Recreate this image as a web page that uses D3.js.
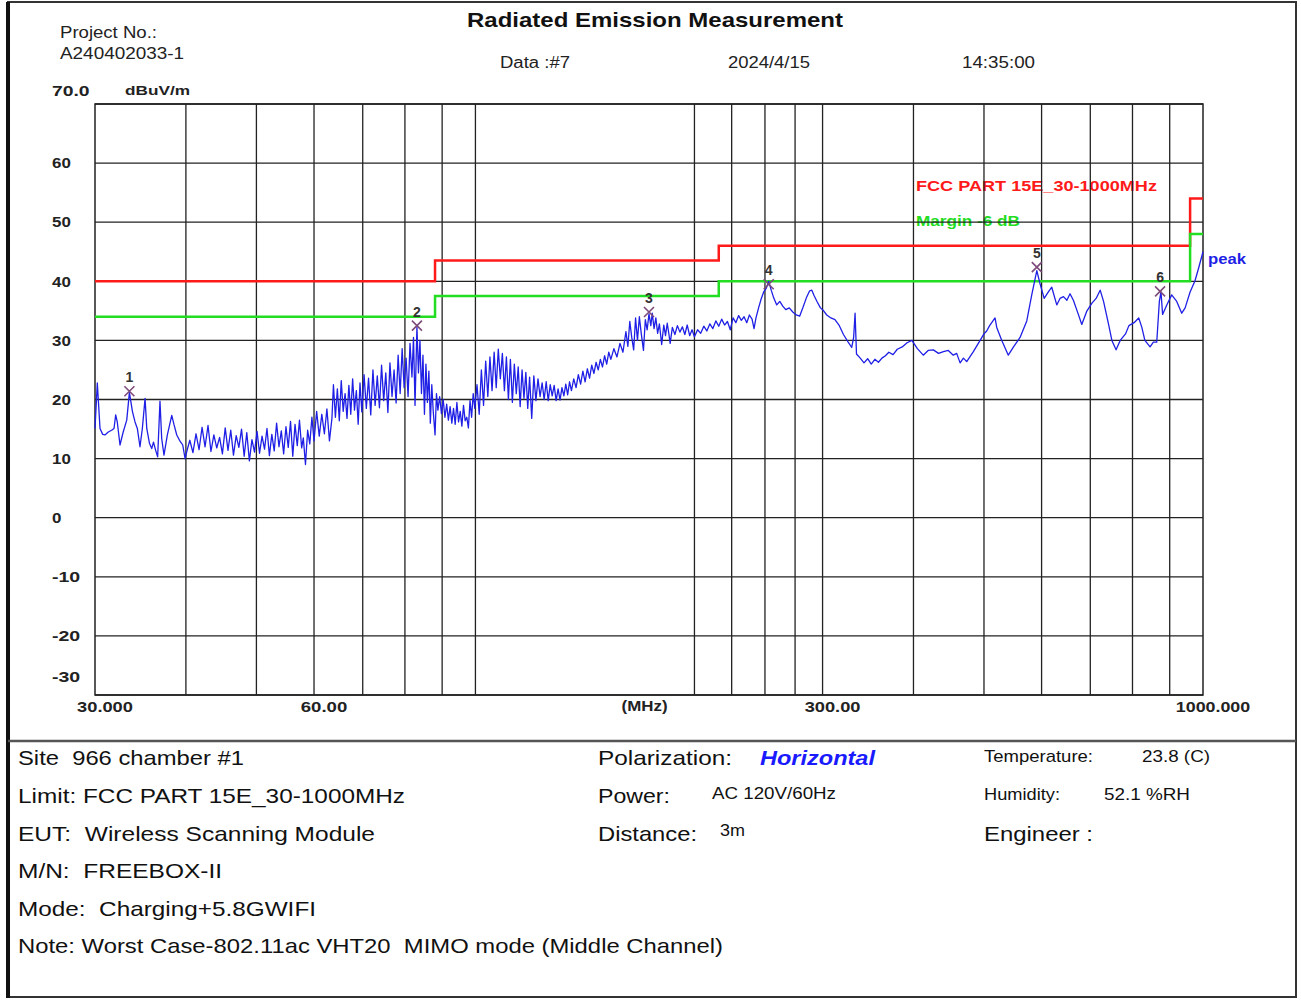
<!DOCTYPE html>
<html>
<head>
<meta charset="utf-8">
<script src="https://cdn.jsdelivr.net/npm/d3@7"></script>
<style>
body { margin: 0; background: #fff; }
text { font-family: "Liberation Sans", Arial, sans-serif; white-space: pre; }
</style>
</head>
<body>
<div id="chart"></div>
<script>
// ---- data ----
var titleText = "Radiated Emission Measurement";
var projectText = ["Project No.:", "A240402033-1"];
var runText = ["Data :#7", "2024/4/15", "14:35:00"];

var yTicks = [70, 60, 50, 40, 30, 20, 10, 0, -10, -20, -30];
var yTickLabels = ["70.0", "60", "50", "40", "30", "20", "10", "0", "-10", "-20", "-30"];
var xGridFreq = [40, 50, 60, 70, 80, 90, 100, 200, 225, 250, 275, 300, 400, 500, 600, 700, 800, 900];
var xTickFreq = [30, 60, 300, 1000];
var xTickLabels = ["30.000", "60.00", "300.00", "1000.000"];

// FCC part 15 class B limit (3 m) and margin
var limitFreq = [30, 88, 216, 960, 1000];
var limitLevel = [40, 43.5, 46, 54, 54];
var marginDb = 6;

var markerNo = ["1", "2", "3", "4", "5", "6"];
var markerFreq = [33.45, 83.1, 173.2, 253.0, 591.0, 873.0];
var markerLevel = [21.4, 32.5, 34.8, 39.5, 42.4, 38.3];

// peak trace [MHz, dBuV/m]
var peakTrace = [
  [30.0,15.1],[30.22,22.8],[30.48,15.1],[30.74,14.1],[30.96,14.0],[31.29,14.5],[31.62,14.8],[31.86,15.1],
  [32.03,17.4],[32.19,16.2],[32.47,12.3],[32.8,14.5],[33.17,16.5],[33.45,21.2],[33.77,18.0],[34.05,16.2],
  [34.3,15.1],[34.59,12.0],[34.85,15.1],[35.15,20.2],[35.34,15.1],[35.64,12.6],[35.9,11.7],[36.1,12.8],
  [36.35,11.4],[36.58,10.3],[36.85,19.7],[37.05,13.4],[37.32,10.6],[37.72,14.0],[38.25,17.3],[38.53,15.7],
  [38.86,14.0],[39.2,13.1],[39.6,12.3],[39.9,10.0],[40.15,11.4],
  [40.5,13.1],[40.9,11.0],[41.3,14.2],[41.7,11.5],[42.1,15.3],[42.5,12.0],[42.9,15.6],[43.3,11.2],
  [43.7,14.0],[44.1,11.8],[44.5,13.6],[44.9,10.8],[45.3,15.2],[45.7,11.4],[46.1,14.8],[46.5,10.6],
  [46.9,13.9],[47.3,11.9],[47.7,15.0],[48.1,10.4],[48.5,14.4],[48.9,9.6],[49.3,13.2],[49.7,11.1],
  [50.1,14.6],[50.5,10.9],[50.9,13.8],[51.3,11.6],[51.7,15.1],[52.1,10.5],[52.5,14.1],[52.9,11.3],
  [53.3,16.0],[53.7,12.0],[54.1,14.7],[54.5,10.8],[54.9,15.4],[55.3,11.9],[55.7,16.3],[56.1,10.4],
  [56.5,15.8],[56.9,12.2],[57.3,16.5],[57.7,11.8],[58.0,13.5],[58.4,9.0],[58.8,14.8],[59.2,12.5],
  [59.6,17.0],[60.0,13.0],[60.5,18.0],[61.0,13.8],[61.5,17.5],[62.0,14.2],[62.5,18.4],[63.0,13.0],
  [63.5,16.8],
  [63.8,22.5],[64.2,17.0],[64.6,21.8],[65.0,16.4],[65.4,23.2],[65.8,18.0],[66.2,21.0],[66.6,16.8],
  [67.0,22.4],[67.4,17.5],[67.8,23.5],[68.2,18.2],[68.6,21.5],[69.0,15.8],[69.4,22.8],[69.8,17.9],
  [70.3,24.2],[70.8,18.5],[71.3,23.6],[71.8,17.4],[72.3,25.0],[72.8,19.0],[73.3,24.0],[73.8,18.6],
  [74.3,25.8],[74.8,19.8],[75.3,24.5],[75.8,17.8],[76.3,26.2],[76.8,20.5],[77.3,25.0],[77.8,19.4],
  [78.3,27.5],[78.8,21.0],[79.3,28.6],[79.8,22.0],[80.3,27.0],[80.8,20.5],[81.3,29.5],[81.8,23.8],
  [82.2,30.5],[82.6,19.0],[83.1,32.3],[83.5,24.5],[83.9,30.0],[84.3,21.0],[84.7,27.5],[85.1,17.5],
  [85.5,26.0],[85.9,19.5],[86.3,24.8],[86.7,16.0],[87.1,22.5],[87.5,18.0],[88.0,14.0],[88.4,21.0],
  [88.8,18.2],[89.3,20.5],[89.8,17.6],[90.3,20.0],[90.8,17.0],[91.3,19.2],[91.8,16.5],[92.3,18.8],
  [92.8,16.0],[93.3,18.5],[93.8,15.8],[94.3,19.5],[94.8,16.2],[95.3,18.0],[95.8,15.5],[96.3,19.0],
  [96.8,16.4],[97.3,17.0],[97.8,15.2],[98.3,19.8],[98.8,17.0],[99.3,21.0],[99.8,18.5],
  [100.5,22.5],[101.2,17.5],[101.9,25.0],[102.6,19.0],[103.3,26.5],[104.0,20.5],[104.7,27.2],[105.4,21.5],
  [106.1,28.0],[106.8,22.0],[107.5,28.5],[108.2,23.5],[108.9,27.8],[109.6,21.5],[110.3,27.2],[111.0,20.0],
  [111.7,26.8],[112.4,19.5],[113.1,26.0],[113.8,21.0],[114.5,25.5],[115.2,18.8],[115.9,25.0],[116.6,20.2],
  [117.3,24.6],[118.0,18.5],[118.7,23.8],[119.5,16.8],[120.3,24.0],[121.1,19.8],[121.9,23.5],[122.7,20.5],
  [123.5,22.8],[124.3,20.0],[125.1,23.0],[125.9,19.8],[126.7,22.5],[127.5,20.6],[128.3,22.4],[129.1,19.8],
  [129.9,21.8],[130.7,19.9],[131.5,22.0],[132.3,20.6],[133.1,22.6],[133.9,20.8],[134.7,23.0],[135.5,21.5],
  [136.5,23.5],[137.5,22.0],[138.5,24.2],[139.5,22.6],[140.5,24.8],[141.5,23.0],[142.5,25.2],[143.5,23.6],
  [144.5,25.8],[145.5,24.4],[146.5,26.3],[147.5,25.0],[148.5,26.8],[149.5,25.5],[150.5,27.4],[151.5,26.0],
  [152.5,28.0],
  [153.5,26.8],[155.0,28.6],[156.5,27.2],[158.0,29.5],[159.5,28.0],[161.0,31.5],[162.0,29.0],[163.0,33.2],
  [164.0,30.5],[165.0,28.4],[166.0,33.8],[167.0,30.0],[168.0,34.0],[169.0,31.2],[170.2,28.3],[171.2,33.5],
  [172.2,31.8],[173.2,34.5],[174.2,32.5],[175.0,34.6],[176.0,32.0],[177.0,33.8],[178.0,31.2],[179.0,32.8],
  [180.3,29.3],[181.5,32.6],[182.5,30.8],[183.5,32.9],[184.5,31.0],[185.2,29.5],[186.5,32.2],[188.0,31.0],
  [189.5,32.5],[191.0,31.4],[192.5,32.3],[194.0,31.0],[195.5,32.6],[197.0,30.8],[198.5,31.8],[200.0,30.6],
  [202.0,31.8],[204.0,31.2],[206.0,32.4],[208.0,31.6],[210.0,32.8],[212.0,32.0],[214.0,33.3],[216.0,32.4],
  [218.0,33.6],[220.0,32.6],[222.0,33.2],[224.0,31.8],[226.0,33.8],[228.0,33.0],[230.0,34.2],[232.0,33.4],
  [234.0,34.0],[236.0,33.0],[238.0,34.3],[240.0,33.6],[241.5,32.0],[243.0,33.8],[245.0,35.5],[247.0,37.0],
  [249.0,38.2],[251.0,38.8],[253.0,40.0],[255.0,38.5],[257.0,37.2],[259.5,36.0],[262.0,36.6],[264.5,35.8],
  [267.0,35.2],[270.0,35.5],[273.0,34.8],[276.0,34.3],[279.0,34.1],[282.0,35.6],[285.0,37.2],[288.0,38.4],
  [290.0,38.5],[292.0,37.6],[295.0,36.5],[298.0,35.5],[301.0,35.0],[304.0,34.3],[308.0,33.8],[312.0,33.5],
  [316.0,32.6],[320.5,31.0],[325.0,29.8],[329.0,28.8],[331.0,30.5],[332.5,34.6],[334.0,27.7],[338.0,27.0],
  [342.0,26.2],[346.0,26.9],[350.0,26.0],[354.0,26.8],[358.0,26.3],[362.0,27.0],[366.0,27.4],[370.0,28.0],
  [375.0,27.6],[380.0,28.5],[386.0,28.9],[392.0,29.6],
  [398.0,30.0],[405.0,28.6],[412.6,27.5],[419.0,28.3],[426.0,28.4],[433.0,27.8],[439.8,28.1],[446.6,28.3],
  [453.7,27.5],[458.6,27.8],[463.6,26.2],[468.5,27.0],[473.4,26.4],[483.5,28.1],[493.9,30.0],[500.0,31.1],
  [504.3,31.6],[509.0,32.5],[517.8,33.8],[520.6,32.2],[529.0,30.0],[540.0,27.5],[549.0,28.9],[560.5,30.5],
  [572.5,33.3],[581.6,37.7],[591.0,41.8],[597.0,39.6],[604.9,37.1],[613.0,38.2],[619.6,39.0],[629.5,36.0],
  [636.0,37.1],[643.0,37.4],[650.0,36.8],[656.5,37.9],[663.5,36.8],[674.0,34.4],[681.4,32.7],[692.0,34.9],
  [703.7,36.3],[713.0,37.1],[722.2,38.5],[730.0,36.6],[741.7,32.7],[749.5,30.0],[759.5,28.4],[769.5,30.0],
  [782.5,31.1],[791.0,32.5],[804.0,33.0],[816.0,33.8],[824.0,32.2],[832.0,30.0],[845.8,28.9],[854.6,29.7],
  [863.8,29.7],[871.0,36.6],[875.5,38.2],[880.0,34.4],[891.7,36.0],[905.7,37.7],[920.2,36.6],[935.0,34.6],
  [945.0,35.5],[960.0,38.2],[975.0,40.1],[985.0,42.0],[996.0,44.2],[1000.0,45.0]
];

var infoLeft = [
  "Site  966 chamber #1",
  "Limit: FCC PART 15E_30-1000MHz",
  "EUT:  Wireless Scanning Module",
  "M/N:  FREEBOX-II",
  "Mode:  Charging+5.8GWIFI",
  "Note: Worst Case-802.11ac VHT20  MIMO mode (Middle Channel)"
];
var infoMidLabels = ["Polarization:", "Power:", "Distance:"];
var infoMidValues = ["Horizontal", "AC 120V/60Hz", "3m"];
var infoRightLabels = ["Temperature:", "Humidity:", "Engineer :"];
var infoRightValues = ["23.8 (C)", "52.1 %RH", ""];

// ---- layout ----
var svgWidth = 1301;
var svgHeight = 1000;

var margin = {top: 104, right: 98, bottom: 305, left: 95};
var width = svgWidth - margin.left - margin.right;
var height = svgHeight - margin.top - margin.bottom;

var svg = d3.select("#chart")
  .append("svg")
  .attr("width", svgWidth)
  .attr("height", svgHeight);

function fit(sel, w) {
  sel.attr("textLength", w).attr("lengthAdjust", "spacingAndGlyphs");
}

// outer frame of the report
svg.append("rect")
  .attr("x", 8).attr("y", 2)
  .attr("width", 1288).attr("height", 995)
  .attr("fill", "none").attr("stroke", "#333").attr("stroke-width", 2);
svg.append("line")
  .attr("x1", 8).attr("x2", 8).attr("y1", 2).attr("y2", 998)
  .attr("stroke", "#111").attr("stroke-width", 4);
svg.append("line")
  .attr("x1", 8).attr("x2", 1296).attr("y1", 741).attr("y2", 741)
  .attr("stroke", "#555").attr("stroke-width", 2.5);

// header
svg.append("text")
  .attr("x", 655).attr("y", 20).attr("dy", "0.35em")
  .attr("text-anchor", "middle")
  .style("font-size", "21px").style("font-weight", "bold").style("fill", "#111")
  .text(titleText)
  .call(fit, 376);

var projY = [32, 53], projW = [97, 124];
svg.selectAll(".proj")
  .data(projectText)
  .enter()
  .append("text")
  .attr("x", 60)
  .attr("y", (d, i) => projY[i]).attr("dy", "0.35em")
  .style("font-size", "16px").style("fill", "#222")
  .text(d => d)
  .each(function(d, i) { d3.select(this).call(fit, projW[i]); });

var runX = [500, 728, 962], runW = [70, 82, 73];
svg.selectAll(".run")
  .data(runText)
  .enter()
  .append("text")
  .attr("x", (d, i) => runX[i])
  .attr("y", 62).attr("dy", "0.35em")
  .style("font-size", "16px").style("fill", "#222")
  .text(d => d)
  .each(function(d, i) { d3.select(this).call(fit, runW[i]); });

var chartGroup = svg.append("g")
  .attr("transform", `translate(${margin.left}, ${margin.top})`);

var xScale = d3.scaleLog().domain([30, 1000]).range([0, width]);
var yScale = d3.scaleLinear().domain([-30, 70]).range([height, 0]);

// legend texts sit under the grid in the original
chartGroup.append("text")
  .attr("x", width - 287).attr("y", 82).attr("dy", "0.35em")
  .style("font-size", "14px").style("font-weight", "bold").style("fill", "#ff1a1a")
  .text("FCC PART 15E_30-1000MHz")
  .call(fit, 241);
chartGroup.append("text")
  .attr("x", width - 287).attr("y", 117).attr("dy", "0.35em")
  .style("font-size", "14px").style("font-weight", "bold").style("fill", "#22dd22")
  .text("Margin -6 dB")
  .call(fit, 104);

// grid
chartGroup.selectAll(".hgrid")
  .data(yTicks)
  .enter()
  .append("line")
  .attr("x1", 0).attr("x2", width)
  .attr("y1", d => yScale(d)).attr("y2", d => yScale(d))
  .attr("stroke", "#222").attr("stroke-width", 1.3);

chartGroup.selectAll(".vgrid")
  .data(xGridFreq)
  .enter()
  .append("line")
  .attr("x1", d => xScale(d)).attr("x2", d => xScale(d))
  .attr("y1", 0).attr("y2", height)
  .attr("stroke", "#222").attr("stroke-width", 1.3);

chartGroup.append("rect")
  .attr("width", width).attr("height", height)
  .attr("fill", "none").attr("stroke", "#222").attr("stroke-width", 1.5);

// y labels
chartGroup.selectAll(".ylab")
  .data(yTicks)
  .enter()
  .append("text")
  .attr("x", -43)
  .attr("y", d => yScale(d) + (d === 70 ? -13 : d === -30 ? -18 : 0))
  .attr("dy", "0.35em")
  .style("font-size", "15px").style("font-weight", "bold").style("fill", "#222")
  .text((d, i) => yTickLabels[i])
  .each(function(d, i) { d3.select(this).call(fit, yTickLabels[i].length * 9.4); });

chartGroup.append("text")
  .attr("x", 30).attr("y", -14).attr("dy", "0.35em")
  .style("font-size", "13px").style("font-weight", "bold").style("fill", "#222")
  .text("dBuV/m")
  .call(fit, 65);

// x labels
chartGroup.selectAll(".xlab")
  .data(xTickFreq)
  .enter()
  .append("text")
  .attr("x", d => xScale(d) + 10)
  .attr("y", height + 12).attr("dy", "0.35em")
  .attr("text-anchor", "middle")
  .style("font-size", "15px").style("font-weight", "bold").style("fill", "#222")
  .text((d, i) => xTickLabels[i])
  .each(function(d, i) { d3.select(this).call(fit, xTickLabels[i].length * 9.3); });

chartGroup.append("text")
  .attr("x", width * 0.496).attr("y", height + 11).attr("dy", "0.35em")
  .attr("text-anchor", "middle")
  .style("font-size", "15px").style("font-weight", "bold").style("fill", "#222")
  .text("(MHz)")
  .call(fit, 46);

// limit and margin steps
var limitPts = limitFreq.map((f, i) => [f, limitLevel[i]]);
var marginPts = limitFreq.map((f, i) => [f, limitLevel[i] - marginDb]);
var stepLine = d3.line()
  .x(d => xScale(d[0]))
  .y(d => yScale(d[1]))
  .curve(d3.curveStepAfter);

chartGroup.append("path")
  .attr("d", stepLine(limitPts))
  .attr("fill", "none").attr("stroke", "#ff1a1a").attr("stroke-width", 2.5);
chartGroup.append("path")
  .attr("d", stepLine(marginPts))
  .attr("fill", "none").attr("stroke", "#22dd22").attr("stroke-width", 2.5);

// peak trace
var traceLine = d3.line()
  .x(d => xScale(d[0]))
  .y(d => yScale(d[1]));

chartGroup.append("path")
  .attr("d", traceLine(peakTrace))
  .attr("fill", "none").attr("stroke", "#1f1fe6").attr("stroke-width", 1.3)
  .attr("stroke-linejoin", "round");

var last = peakTrace[peakTrace.length - 1];
chartGroup.append("text")
  .attr("x", xScale(last[0]) + 5).attr("y", yScale(last[1]) + 7).attr("dy", "0.35em")
  .style("font-size", "14px").style("font-weight", "bold").style("fill", "#1f1fe6")
  .text("peak")
  .call(fit, 38);

// markers
var mk = chartGroup.selectAll(".marker")
  .data(markerNo)
  .enter()
  .append("g")
  .attr("transform", (d, i) => `translate(${xScale(markerFreq[i])}, ${yScale(markerLevel[i])})`);

mk.append("path")
  .attr("d", "M-5,-5L5,5M-5,5L5,-5")
  .attr("stroke", "#7d4a7a").attr("stroke-width", 1.6);

mk.append("text")
  .attr("y", -14).attr("dy", "0.35em")
  .attr("text-anchor", "middle")
  .style("font-size", "14px").style("font-weight", "bold").style("fill", "#333")
  .text(d => d);

// info block
var rowY = d3.range(6).map(i => 758 + i * 37.6);
var leftW = [226, 387, 357, 204, 298, 705];
svg.selectAll(".infoL")
  .data(infoLeft)
  .enter()
  .append("text")
  .attr("x", 18)
  .attr("y", (d, i) => rowY[i]).attr("dy", "0.35em")
  .style("font-size", "21px").style("fill", "#111")
  .text(d => d)
  .each(function(d, i) { d3.select(this).call(fit, leftW[i]); });

var midLabelW = [134, 72, 99];
svg.selectAll(".infoML")
  .data(infoMidLabels)
  .enter()
  .append("text")
  .attr("x", 598)
  .attr("y", (d, i) => rowY[i]).attr("dy", "0.35em")
  .style("font-size", "21px").style("fill", "#111")
  .text(d => d)
  .each(function(d, i) { d3.select(this).call(fit, midLabelW[i]); });

var midValX = [760, 712, 720], midValW = [115, 124, 25], midValDy = [0, -2, -3];
svg.selectAll(".infoMV")
  .data(infoMidValues)
  .enter()
  .append("text")
  .attr("x", (d, i) => midValX[i])
  .attr("y", (d, i) => rowY[i] + midValDy[i]).attr("dy", "0.35em")
  .style("font-size", (d, i) => i === 0 ? "21px" : "16px")
  .style("font-weight", (d, i) => i === 0 ? "bold" : "normal")
  .style("font-style", (d, i) => i === 0 ? "italic" : "normal")
  .style("fill", (d, i) => i === 0 ? "#1a1aff" : "#111")
  .text(d => d)
  .each(function(d, i) { d3.select(this).call(fit, midValW[i]); });

var rightLabelW = [109, 76, 109];
svg.selectAll(".infoRL")
  .data(infoRightLabels)
  .enter()
  .append("text")
  .attr("x", 984)
  .attr("y", (d, i) => rowY[i] + (i < 2 ? -2 : 0)).attr("dy", "0.35em")
  .style("font-size", (d, i) => i < 2 ? "17px" : "21px")
  .style("fill", "#111")
  .text(d => d)
  .each(function(d, i) { d3.select(this).call(fit, rightLabelW[i]); });

var rightValX = [1142, 1104], rightValW = [68, 86];
svg.selectAll(".infoRV")
  .data(infoRightValues.filter(d => d))
  .enter()
  .append("text")
  .attr("x", (d, i) => rightValX[i])
  .attr("y", (d, i) => rowY[i] - 2).attr("dy", "0.35em")
  .style("font-size", "17px").style("fill", "#111")
  .text(d => d)
  .each(function(d, i) { d3.select(this).call(fit, rightValW[i]); });
</script>
</body>
</html>
